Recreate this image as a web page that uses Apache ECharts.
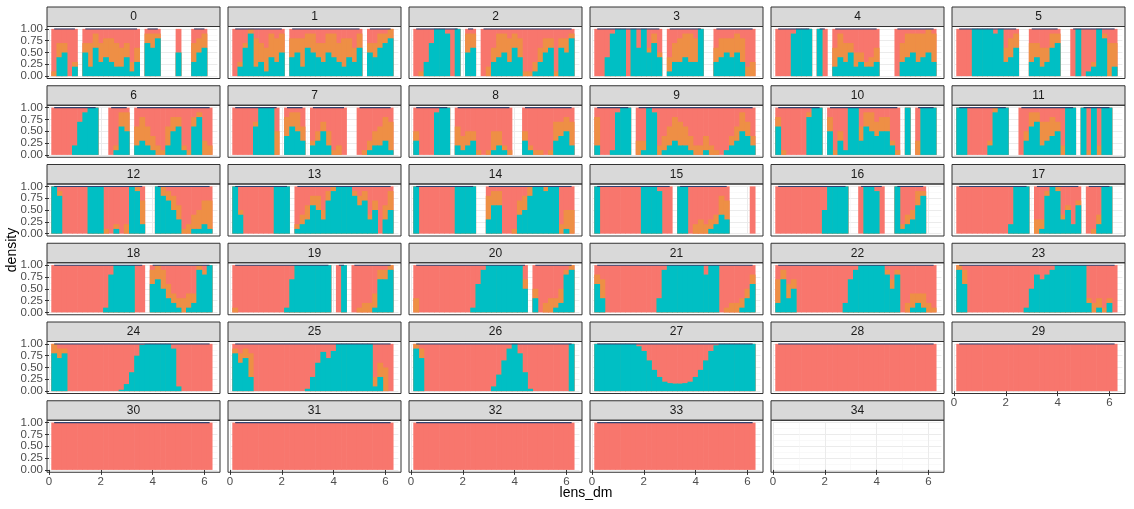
<!DOCTYPE html>
<html><head><meta charset="utf-8">
<script src="https://cdn.jsdelivr.net/npm/echarts@6/dist/echarts.min.js"></script>
<style>html,body{margin:0;padding:0;background:#fff}#c{width:1134px;height:509px}</style>
</head><body><div id="c"></div>
<script>
const _ = null;
// sample positions along lens_dm
const xs = [0.2,0.4,0.6,0.8,1.0,1.2,1.4,1.6,1.8,2.0,2.2,2.4,2.6,2.8,3.0,3.2,3.4,3.6,3.8,4.0,4.2,4.4,4.6,4.8,5.0,5.2,5.4,5.6,5.8,6.0,6.2];
const panelLabels = ['0','1','2','3','4','5','6','7','8','9','10','11','12','13','14','15','16','17','18','19','20','21','22','23','24','25','26','27','28','29','30','31','32','33','34'];
const yTicks = ['0.00','0.25','0.50','0.75','1.00'];
const xTicks = [0,2,4,6];
// density of the teal group (tenths), per panel
const tealShare = [
[0,4,5,0,2,_,5,2,6,3,4,3,2,2,4,1,3,_,7,6,8,_,_,_,5,_,_,3,5,6,_],
[0,2,6,9,2,3,1,4,3,5,_,4,5,2,6,5,4,3,5,4,3,2,4,3,6,_,5,4,6,7,8],
[0,0,3,7,10,10,9,0,10,_,5,6,_,0,0,3,4,5,3,6,4,0,0,1,3,5,6,0,6,5,8],
[0,0,4,9,10,10,0,10,6,10,5,7,4,_,1,3,3,4,3,3,10,_,_,3,4,5,4,5,3,0,0],
[0,0,0,9,10,10,10,_,10,0,_,2,4,3,5,2,3,2,2,3,_,_,_,0,3,4,5,3,4,5,3],
[0,0,0,10,10,10,10,9,10,3,4,6,_,_,3,4,2,3,6,7,_,_,0,10,0,1,2,10,8,0,2],
[0,0,0,0,2,7,9,10,10,_,_,0,1,6,5,_,2,3,2,1,0,0,2,5,6,1,0,6,8,0,0],
[0,0,0,0,6,10,10,10,0,_,4,6,5,3,_,2,3,5,2,0,0,0,_,_,0,0,1,2,2,3,1],
[3,0,0,0,9,10,10,_,2,1,2,3,0,0,0,1,2,1,0,_,_,3,1,0,0,0,0,3,4,5,2],
[2,0,0,1,9,10,10,_,0,1,10,9,0,1,2,3,2,2,1,0,0,1,0,0,0,1,2,3,5,4,2],
[6,0,0,0,0,0,8,10,10,_,5,0,3,1,10,10,3,6,5,4,5,5,2,0,_,10,_,0,10,10,10],
[10,10,0,0,0,0,2,9,10,10,_,_,0,3,6,7,2,3,4,5,0,10,10,_,10,0,10,0,10,10,_],
[10,8,0,0,0,0,0,10,10,10,0,0,1,0,0,10,9,2,_,_,10,8,7,5,3,0,0,1,1,2,1],
[10,4,0,0,0,0,0,0,10,10,10,_,1,2,3,6,5,3,7,9,10,10,10,8,6,7,3,5,0,3,5],
[10,0,0,0,0,0,0,0,10,10,10,10,_,_,3,6,6,0,0,0,4,5,8,10,10,9,10,10,0,1,0],
[10,0,0,0,0,0,0,0,0,10,10,10,9,0,0,_,10,10,0,0,0,0,1,2,4,3,_,_,_,_,0],
[0,0,0,0,0,0,0,0,0,5,10,10,10,10,_,_,0,10,10,9,0,_,_,10,1,2,3,6,8,_,_],
[0,0,0,0,0,0,0,0,0,0,2,10,10,10,_,0,1,8,10,9,3,5,2,6,_,0,0,2,10,10,_],
[0,0,0,0,0,0,0,0,0,0,1,8,10,10,10,10,0,0,_,6,7,5,3,2,1,0,1,2,9,8,10],
[0,0,0,0,0,0,0,0,0,0,1,7,10,10,10,10,10,10,10,_,0,10,_,0,0,0,0,1,7,7,9],
[0,0,0,0,0,0,0,0,0,0,0,1,6,9,10,10,10,10,10,10,10,5,_,3,0,0,0,1,2,8,9],
[6,3,0,0,0,0,0,0,0,0,0,0,3,9,10,10,10,10,10,10,10,8,10,10,0,0,0,0,1,3,6],
[2,7,3,5,0,0,0,0,0,0,0,0,0,2,7,9,10,10,10,10,10,8,5,8,0,0,1,2,1,0,0],
[9,6,0,0,0,0,0,0,0,0,0,0,0,1,5,8,7,8,9,10,10,10,10,10,10,2,0,1,0,2,0],
[8,7,8,0,0,0,0,0,0,0,0,0,0,0.3,1.5,4,7.5,9.8,10,10,10,10,10,9,1,0,0,0,0,0,0],
[8,6,7,3,0,0,0,0,0,0,0,0,0,0,0.5,3,6,8.3,7,8.5,10,10,10,10,10,10,10,1,3,0,0],
[9,7,0,0,0,0,0,0,0,0,0,0,0,0,0,1,3.5,6.5,9,10,8,4,0.5,0,0,0,0,0,0,0,10],
[10,10,10,10,10,10,10,10,9.5,8.5,6.5,4.5,3,2,1.7,1.6,1.6,1.7,2,3,4.5,6.5,8.5,9.7,10,10,10,10,10,10,10],
[0,0,0,0,0,0,0,0,0,0,0,0,0,0,0,0,0,0,0,0,0,0,0,0,0,0,0,0,0,0,0],
[0,0,0,0,0,0,0,0,0,0,0,0,0,0,0,0,0,0,0,0,0,0,0,0,0,0,0,0,0,0,0],
[0,0,0,0,0,0,0,0,0,0,0,0,0,0,0,0,0,0,0,0,0,0,0,0,0,0,0,0,0,0,0],
[0,0,0,0,0,0,0,0,0,0,0,0,0,0,0,0,0,0,0,0,0,0,0,0,0,0,0,0,0,0,0],
[0,0,0,0,0,0,0,0,0,0,0,0,0,0,0,0,0,0,0,0,0,0,0,0,0,0,0,0,0,0,0],
[0,0,0,0,0,0,0,0,0,0,0,0,0,0,0,0,0,0,0,0,0,0,0,0,0,0,0,0,0,0,0],
[_,_,_,_,_,_,_,_,_,_,_,_,_,_,_,_,_,_,_,_,_,_,_,_,_,_,_,_,_,_,_]
];
// density of the orange group (tenths), per panel
const orangeShare = [
[1,3,2,0,1,_,2,5,3,4,4,5,5,4,3,2,3,_,2,3,1,_,_,_,0,_,_,4,3,3,_],
[0,1,1,1,6,4,5,5,5,4,_,4,3,6,3,4,3,4,4,5,4,6,4,3,3,_,2,3,3,2,2],
[0,1,0,0,0,0,0,0,0,_,4,3,_,0,2,3,5,4,5,3,4,1,1,2,3,3,2,1,2,3,1],
[0,0,0,0,0,0,0,0,0,0,1,2,1,_,3,4,5,5,6,5,0,_,_,3,4,3,4,4,5,2,3],
[0,0,0,0,0,0,0,_,0,0,_,4,5,4,2,3,2,1,2,3,_,_,_,0,4,5,4,6,5,5,6],
[0,0,0,0,0,0,0,0,0,3,4,3,_,_,4,3,4,3,3,2,_,_,0,0,0,0,1,0,1,7,5],
[0,0,0,0,0,0,0,0,0,_,_,0,1,3,4,_,4,5,4,3,2,1,4,3,2,1,1,2,1,3,2],
[0,0,0,0,1,0,0,0,5,_,4,3,4,3,_,1,2,2,3,1,2,0,_,_,0,1,2,3,4,5,6],
[2,0,0,0,0,0,0,_,4,3,3,2,1,0,1,4,3,1,1,_,_,2,1,1,1,0,1,4,3,3,5],
[6,0,0,0,0,0,0,_,3,2,0,0,2,3,4,5,5,4,3,2,2,3,2,1,0,0,2,3,4,3,2],
[2,1,0,0,0,0,1,0,0,_,3,1,2,0,0,0,3,3,4,3,3,3,1,1,_,0,_,3,0,0,0],
[0,0,0,0,0,0,1,1,0,0,_,_,0,2,3,2,5,4,4,2,2,0,0,_,0,1,0,2,0,0,_],
[0,1,0,0,0,0,0,0,0,0,1,0,1,0,2,0,1,5,_,_,0,2,2,3,3,1,2,3,4,5,6],
[0,1,0,0,0,0,0,0,0,0,0,_,1,2,3,2,3,2,2,1,0,0,0,1,2,2,1,2,0,3,4],
[0,0,0,0,0,0,0,0,0,0,0,0,_,_,5,3,3,0,0,1,3,3,2,0,0,1,0,0,2,4,5],
[0,0,0,0,0,0,0,0,0,0,0,0,0,0,0,_,0,0,0,2,3,2,2,2,4,4,_,_,_,_,0],
[0,0,0,0,0,0,0,0,0,0,0,0,0,0,_,_,0,0,0,0,0,_,_,0,1,2,2,3,1,_,_],
[0,0,0,0,0,0,0,0,0,0,0,0,0,0,_,3,2,1,0,1,1,1,0,1,_,0,1,2,0,0,_],
[0,0,0,0,0,0,0,0,0,0,0,0,0,0,0,0,0,0,_,3,3,4,3,2,2,3,3,2,1,1,0],
[1,0,0,0,0,0,0,0,0,0,0,0,0,0,0,0,0,0,0,_,0,0,_,0,1,2,2,3,2,2,1],
[3,0,0,0,0,0,0,0,0,0,0,0,0,0,0,0,0,0,0,0,0,2,_,2,0,2,3,2,3,1,1],
[2,4,0,0,0,0,0,0,0,0,0,0,0,0,0,0,0,0,0,0,0,0,0,0,0,1,2,2,2,2,2],
[5,2,3,2,0,0,0,0,0,0,0,0,0,0,0,0,0,0,0,0,0,1,2,1,0,2,3,2,3,2,1],
[1,3,0,0,0,0,0,0,0,0,0,0,0,0,0,0,0,0,0,0,0,0,0,0,0,1,2,2,1,1,0],
[2,2,1,0,0,0,0,0,0,0,0,0,0,0,0,0,0,0,0,0,0,0,0,0,0,0,0,0,0,0,0],
[1,2,2,5,0,0,0,0,0,0,0,0,0,0,0,0,0,0,0,0,0,0,0,0,0,0,0,2,3,5,0],
[1,2,0,0,0,0,0,0,0,0,0,0,0,0,0,0,0,0,0,0,0,0,0,0,0,0,0,0,0,0,0],
[0,0,0,0,0,0,0,0,0,0,0,0,0,0,0,0,0,0,0,0,0,0,0,0,0,0,0,0,0,0,0],
[0,0,0,0,0,0,0,0,0,0,0,0,0,0,0,0,0,0,0,0,0,0,0,0,0,0,0,0,0,0,0],
[0,0,0,0,0,0,0,0,0,0,0,0,0,0,0,0,0,0,0,0,0,0,0,0,0,0,0,0,0,0,0],
[0,0,0,0,0,0,0,0,0,0,0,0,0,0,0,0,0,0,0,0,0,0,0,0,0,0,0,0,0,0,0],
[0,0,0,0,0,0,0,0,0,0,0,0,0,0,0,0,0,0,0,0,0,0,0,0,0,0,0,0,0,0,0],
[0,0,0,0,0,0,0,0,0,0,0,0,0,0,0,0,0,0,0,0,0,0,0,0,0,0,0,0,0,0,0],
[0,0,0,0,0,0,0,0,0,0,0,0,0,0,0,0,0,0,0,0,0,0,0,0,0,0,0,0,0,0,0],
[_,_,_,_,_,_,_,_,_,_,_,_,_,_,_,_,_,_,_,_,_,_,_,_,_,_,_,_,_,_,_]
];
const RED='#F8766D', TEAL='#00BFC4', ORANGE='#EE8F45', TOPLINE='#2f4272';
const FONT='Liberation Sans, Arial, sans-serif';
const chart = echarts.init(document.getElementById('c'));
const grids=[], xAxes=[], yAxes=[], series=[], graphics=[];
const bottomPanels = {29:1,30:1,31:1,32:1,33:1,34:1};
panelLabels.forEach((lab,i)=>{
  const r=Math.floor(i/6), c=i%6;
  const pl=47+181*c, pw=173;
  const st=7+78.75*r, pt=st+19.5, ph=52;
  grids.push({left:pl+2, top:pt+2.36, width:168.4, height:47.28});
  const bot=!!bottomPanels[i];
  xAxes.push({type:'value', gridIndex:i, min:0, max:6.5, interval:2,
    axisLine:{show:false},
    axisTick:{show:bot, length:5, lineStyle:{color:'#333'}, customValues:xTicks},
    axisLabel:{show:bot, color:'#4d4d4d', fontSize:11.5, fontFamily:FONT, margin:6, customValues:xTicks},
    splitLine:{show:true, lineStyle:{color:'#ebebeb', width:1}},
    minorTick:{show:true, splitNumber:2, length:0},
    minorSplitLine:{show:true, lineStyle:{color:'#f5f5f5', width:0.6}}
  });
  yAxes.push({type:'value', gridIndex:i, min:0, max:10, interval:2.5,
    axisLine:{show:false},
    axisTick:{show:c===0, length:4, lineStyle:{color:'#333'}},
    axisLabel:{show:c===0, color:'#4d4d4d', fontSize:11.5, fontFamily:FONT, margin:6,
      formatter:v=> yTicks[Math.round(v/2.5)]},
    splitLine:{show:true, lineStyle:{color:'#ebebeb', width:1}},
    minorTick:{show:true, splitNumber:2, length:0},
    minorSplitLine:{show:true, lineStyle:{color:'#f5f5f5', width:0.6}}
  });
  const t=tealShare[i], o=orangeShare[i];
  const mk=(f)=>xs.map((x,k)=>[x, t[k]===null?null:f(k)]);
  const common={type:'bar', xAxisIndex:i, yAxisIndex:i, barWidth:5.8, barGap:'-100%', silent:true, animation:false};
  // overlaid cumulative bars reproduce the filled stack: red on top, orange middle, teal bottom
  series.push(Object.assign({}, common, {name:'red', z:2, data:mk(k=>10), itemStyle:{color:RED}}));
  series.push(Object.assign({}, common, {name:'orange', z:3, data:mk(k=>t[k]+o[k]), itemStyle:{color:ORANGE}}));
  series.push(Object.assign({}, common, {name:'teal', z:4, data:mk(k=>t[k]), itemStyle:{color:TEAL}}));
  series.push({type:'line', xAxisIndex:i, yAxisIndex:i, symbol:'none', silent:true, animation:false, z:5,
    connectNulls:false, lineStyle:{color:TOPLINE, width:1.3},
    data:xs.map((x,k)=>[x, t[k]===null?null:10])});
  graphics.push({type:'rect', shape:{x:pl, y:st, width:pw, height:19.5}, style:{fill:'#d9d9d9', stroke:'#333', lineWidth:1}, z:10});
  graphics.push({type:'text', x:pl+pw/2, y:st+10, style:{text:lab, font:'12px '+FONT, fill:'#1a1a1a', textAlign:'center', textVerticalAlign:'middle'}, z:11});
  graphics.push({type:'rect', shape:{x:pl, y:pt, width:pw, height:ph}, style:{fill:'none', stroke:'#333', lineWidth:1}, z:10});
});
graphics.push({type:'text', x:586, y:493, style:{text:'lens_dm', font:'14px '+FONT, fill:'#000', textAlign:'center', textVerticalAlign:'middle'}, z:11});
graphics.push({type:'text', x:12, y:250, rotation:Math.PI/2, style:{text:'density', font:'14px '+FONT, fill:'#000', textAlign:'center', textVerticalAlign:'middle'}, z:11});
chart.setOption({animation:false, grid:grids, xAxis:xAxes, yAxis:yAxes, series:series, graphic:graphics});
</script></body></html>
